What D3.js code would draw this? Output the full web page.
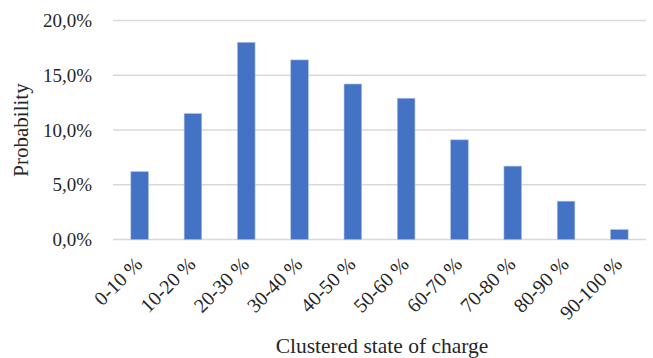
<!DOCTYPE html>
<html>
<head>
<meta charset="utf-8">
<script src="https://cdn.jsdelivr.net/npm/d3@7"></script>
<style>
  html, body { margin: 0; padding: 0; background: #fff; }
  svg text { font-family: "Liberation Serif", "Times New Roman", serif; fill: #262626; }
</style>
</head>
<body>
<svg id="chart" width="653" height="358"></svg>
<script>
// State-of-charge clusters and their probabilities (%)
const categories = ["0-10 %", "10-20 %", "20-30 %", "30-40 %", "40-50 %",
                    "50-60 %", "60-70 %", "70-80 %", "80-90 %", "90-100 %"];
const probability = [6.2, 11.5, 18.0, 16.4, 14.2, 12.9, 9.1, 6.7, 3.5, 0.9];
const yTicks = [0, 5, 10, 15, 20];

const svg = d3.select("#chart");
const margin = { left: 113, right: 7, top: 20.5, bottom: 118.5 };
const W = 653, H = 358;

const x = d3.scaleBand()
  .domain(categories)
  .range([margin.left, W - margin.right])
  .paddingInner(0.67)
  .paddingOuter(0.335);

const y = d3.scaleLinear()
  .domain([0, 20])
  .range([H - margin.bottom, margin.top]);

const fmt = v => v.toFixed(1).replace(".", ",") + "%";

// horizontal gridlines
svg.append("g")
  .selectAll("line")
  .data(yTicks)
  .join("line")
  .attr("x1", margin.left)
  .attr("x2", W - margin.right)
  .attr("y1", d => y(d))
  .attr("y2", d => y(d))
  .attr("stroke", "#d9d9d9")
  .attr("stroke-width", 1.5);

// y tick labels
svg.append("g")
  .selectAll("text")
  .data(yTicks)
  .join("text")
  .attr("x", 92)
  .attr("y", d => y(d))
  .attr("dy", "0.35em")
  .attr("text-anchor", "end")
  .style("font-size", "19px")
  .text(fmt);

// bars
svg.append("g")
  .selectAll("rect")
  .data(probability)
  .join("rect")
  .attr("x", (d, i) => x(categories[i]))
  .attr("width", x.bandwidth())
  .attr("y", d => y(d))
  .attr("height", d => y(0) - y(d))
  .attr("fill", "#4472c4")
  .attr("stroke", "#a9bde3")
  .attr("stroke-width", 0.6);

// rotated category labels
svg.append("g")
  .selectAll("text")
  .data(categories)
  .join("text")
  .attr("transform", d => `translate(${x(d) + x.bandwidth() / 2 - 1},${y(0) + 21}) rotate(-45)`)
  .attr("text-anchor", "end")
  .attr("dy", "0.35em")
  .style("font-size", "20px")
  .text(d => d);

// axis titles
svg.append("text")
  .attr("x", 382)
  .attr("y", 353)
  .attr("text-anchor", "middle")
  .style("font-size", "21.5px")
  .text("Clustered state of charge");

svg.append("text")
  .attr("transform", "translate(28,130) rotate(-90)")
  .attr("text-anchor", "middle")
  .style("font-size", "21px")
  .text("Probability");
</script>
</body>
</html>
